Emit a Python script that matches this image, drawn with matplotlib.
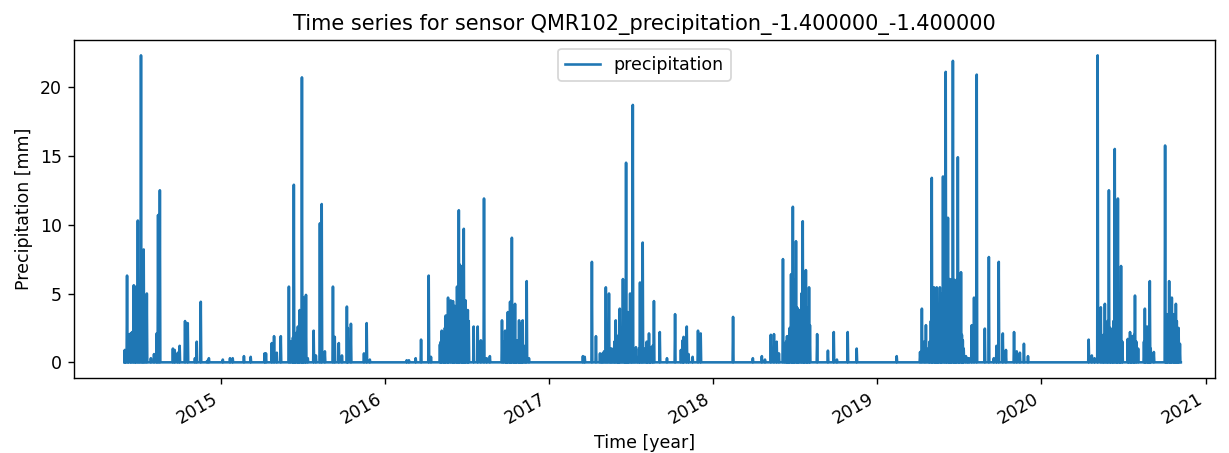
import numpy as np
import pandas as pd
import matplotlib
matplotlib.use("Agg")
import matplotlib.pyplot as plt
import matplotlib.dates as mdates

# ---- data ----
series_start = "2014-06-01"
series_end = "2020-11-06"
# peak rainy days: day number since series_start, and precipitation in mm
rain_day = [
    1, 6, 14, 21, 26, 30, 37, 43, 50, 59, 66, 72, 75, 79, 108, 112, 119, 123, 135, 141,
    157, 161, 170, 184, 188, 219, 235, 241, 266, 281, 312, 315, 328, 333, 339, 348, 366,
    373, 377, 381, 386, 390, 395, 399, 404, 408, 421, 426, 435, 439, 446, 464, 468, 477,
    484, 495, 497, 504, 533, 539, 546, 628, 633, 648, 660, 677, 682, 702, 706, 711, 715,
    720, 726, 731, 735, 740, 744, 746, 751, 755, 759, 764, 766, 777, 786, 793, 800, 806,
    813, 840, 847, 851, 853, 858, 862, 869, 873, 878, 882, 884, 886, 895, 900, 1020, 1024,
    1040, 1049, 1058, 1064, 1071, 1078, 1084, 1093, 1098, 1102, 1109, 1116, 1120, 1125,
    1131, 1138, 1142, 1147, 1153, 1162, 1167, 1171, 1178, 1191, 1207, 1225, 1238, 1242,
    1244, 1251, 1255, 1264, 1276, 1282, 1354, 1398, 1418, 1425, 1438, 1445, 1451, 1456,
    1465, 1474, 1478, 1483, 1487, 1494, 1498, 1503, 1509, 1516, 1523, 1525, 1541, 1565,
    1578, 1585, 1609, 1629, 1718, 1770, 1774, 1783, 1796, 1801, 1807, 1809, 1814, 1821,
    1827, 1832, 1836, 1843, 1847, 1854, 1861, 1865, 1872, 1876, 1879, 1885, 1890, 1896,
    1914, 1923, 1934, 1940, 1945, 1954, 1961, 1979, 1985, 1992, 2001, 2010, 2145, 2152,
    2158, 2165, 2172, 2181, 2190, 2195, 2203, 2210, 2217, 2232, 2237, 2241, 2248, 2255,
    2270, 2275, 2281, 2290, 2315, 2319, 2324, 2330, 2333, 2339, 2348,
]
rain_mm = [
    0.9, 6.3, 2.1, 5.6, 5.5, 10.3, 22.3, 8.2, 5.0, 0.3, 0.6, 2.1, 10.7, 12.5, 1.0, 0.9, 0.7, 1.2, 3.0, 2.85,
    0.3, 1.5, 4.4, 0.1, 0.3, 0.2, 0.3, 0.3, 0.45, 0.4, 0.65, 0.65, 1.4, 1.9, 0.7, 1.9, 5.5,
    1.5, 12.9, 1.85, 2.6, 3.8, 20.7, 4.7, 4.9, 0.3, 2.3, 0.5, 10.1, 11.5, 0.8, 5.5, 1.85, 1.4,
    0.5, 4.05, 2.5, 2.8, 0.65, 2.85, 0.2, 0.15, 0.15, 0.3, 1.65, 6.3, 0.4, 1.3, 2.3, 2.2, 3.4,
    4.7, 4.5, 4.45, 4.1, 5.5, 11.05, 7.1, 7.0, 9.7, 4.5, 3.8, 3.0, 2.6, 2.6, 1.6, 11.9, 0.3,
    0.45, 3.05, 2.3, 1.5, 3.65, 4.4, 9.05, 4.25, 1.6, 3.05, 2.8, 1.5, 3.05, 5.9, 0.3, 0.45, 0.4,
    7.3, 1.9, 0.65, 0.65, 5.45, 5.0, 1.0, 3.05, 0.5, 3.9, 6.05, 14.5, 3.65, 5.0,
    18.7, 1.1, 0.3, 5.8, 8.7, 1.5, 2.1, 1.1, 4.45, 2.2, 0.3, 3.5, 0.9, 1.6,
    1.85, 2.6, 0.6, 0.4, 2.3, 2.1, 3.3, 0.3, 0.45, 0.2, 2.0, 2.05, 1.5, 0.65,
    7.5, 1.9, 1.9, 6.4, 11.3, 8.8, 3.9, 3.8, 10.25, 6.7, 5.45, 2.7, 2.05, 0.85,
    2.2, 0.2, 2.2, 1.0, 0.45, 0.75, 3.9, 2.7, 13.4, 5.45, 5.45, 2.7, 5.45, 13.5,
    21.1, 10.5, 6.05, 21.9, 5.7, 14.9, 6.55, 1.6, 0.45, 0.3, 0.3, 2.7, 4.7, 20.9,
    2.45, 7.65, 0.3, 1.2, 7.3, 2.1, 0.9, 2.2, 0.8, 0.7, 1.35, 0.45, 1.65, 0.5,
    0.3, 22.3, 4.0, 4.25, 12.5, 2.1, 15.5, 11.9, 7.0, 1.7, 2.2, 1.9, 4.85, 1.0,
    3.9, 2.6, 5.9, 0.75, 15.75, 3.5, 5.9, 4.7, 3.5, 4.25, 1.35,
]
# lower-level rainy days inside the wet-season clusters (read from the filled areas)
cluster_day = [
    9, 17, 24, 33, 40, 46,
    369, 375, 379, 384, 388, 393, 397, 402,
    704, 709, 713, 718, 722, 729, 733, 738, 742, 749, 753, 757, 762,
    843, 849, 856, 860, 865, 867, 871, 876, 880, 889, 892,
    1061, 1067, 1074, 1081, 1087, 1090, 1096, 1100, 1105, 1112, 1114, 1118, 1122, 1128,
    1134, 1145, 1150, 1156, 1160, 1164, 1169, 1175,
    1469, 1472, 1476, 1480, 1485, 1489, 1491, 1496, 1500, 1506, 1511, 1513, 1518, 1520,
    1779, 1788, 1791, 1794, 1798, 1803, 1805, 1811, 1816, 1818, 1824, 1829, 1834, 1838,
    1840, 1845, 1849, 1851, 1856, 1858, 1863, 1867,
    2175, 2178, 2184, 2187, 2193, 2198, 2200, 2206, 2208, 2213, 2215, 2220, 2234, 2239,
    2244, 2246, 2251, 2268, 2272, 2277, 2279, 2283, 2317, 2321, 2326, 2328, 2335, 2337,
    2341, 2343, 2345,
]
cluster_mm = [
    2.0, 2.2, 2.5, 3.0, 4.0, 2.0,
    1.5, 1.8, 2.0, 2.2, 2.5, 3.0, 3.5, 2.0,
    1.5, 2.0, 2.5, 3.0, 3.5, 3.5, 3.8, 4.0, 4.5, 4.5, 5.0, 4.5, 3.0,
    1.5, 1.5, 2.0, 3.0, 3.5, 2.0, 1.5, 1.5, 1.5, 1.2, 1.0,
    0.6, 0.8, 1.0, 1.0, 0.8, 1.5, 1.5, 2.0, 2.5, 3.0, 4.0, 3.0, 3.0, 3.5,
    1.0, 1.0, 1.5, 1.0, 0.8, 1.0, 1.0, 1.2,
    1.0, 1.5, 1.8, 2.5, 5.0, 6.0, 5.5, 4.0, 3.5, 5.0, 6.0, 5.0, 4.0, 3.5,
    1.5, 1.0, 1.5, 3.0, 4.0, 3.0, 3.5, 3.0, 4.0, 5.0, 8.0, 6.0, 5.0, 5.5,
    6.0, 6.0, 5.0, 6.0, 6.0, 5.5, 2.0, 1.0,
    1.5, 2.0, 2.0, 3.0, 2.5, 2.0, 3.0, 5.0, 6.0, 5.0, 4.0, 1.5, 1.5, 1.5,
    1.5, 2.0, 1.5, 1.5, 1.5, 1.5, 1.5, 1.0, 2.0, 3.0, 4.0, 3.5, 3.0, 3.0,
    3.0, 2.0, 2.5,
]
series_name = "precipitation"
title_text = "Time series for sensor QMR102_precipitation_-1.400000_-1.400000"
xlabel_text = "Time [year]"
ylabel_text = "Precipitation [mm]"

# ---- build daily series ----
dates = pd.date_range(series_start, series_end, freq="D")
values = np.zeros(len(dates))
values[np.array(cluster_day)] = np.array(cluster_mm)
values[np.array(rain_day)] = np.array(rain_mm)

DPI = 125
fig = plt.figure(figsize=(1229 / DPI, 453 / DPI), dpi=DPI)
ax = fig.add_axes([74 / 1229, 1 - 377.7 / 453, (1215 - 74) / 1229, (377.7 - 40) / 453])
ax.plot(dates, values, color="#1f77b4", label=series_name)

ax.set_xlim(dates[0] - pd.Timedelta(days=112), dates[-1] + pd.Timedelta(days=76))
ax.xaxis.set_major_locator(mdates.YearLocator())
ax.xaxis.set_major_formatter(mdates.DateFormatter("%Y"))
for lbl in ax.get_xticklabels():
    lbl.set_rotation(30)
    lbl.set_ha("right")
ax.set_yticks([0, 5, 10, 15, 20])

ax.set_title(title_text)
ax.set_xlabel(xlabel_text)
ax.set_ylabel(ylabel_text)
ax.legend(loc="upper center")

fig.savefig("out.png", dpi=DPI)
